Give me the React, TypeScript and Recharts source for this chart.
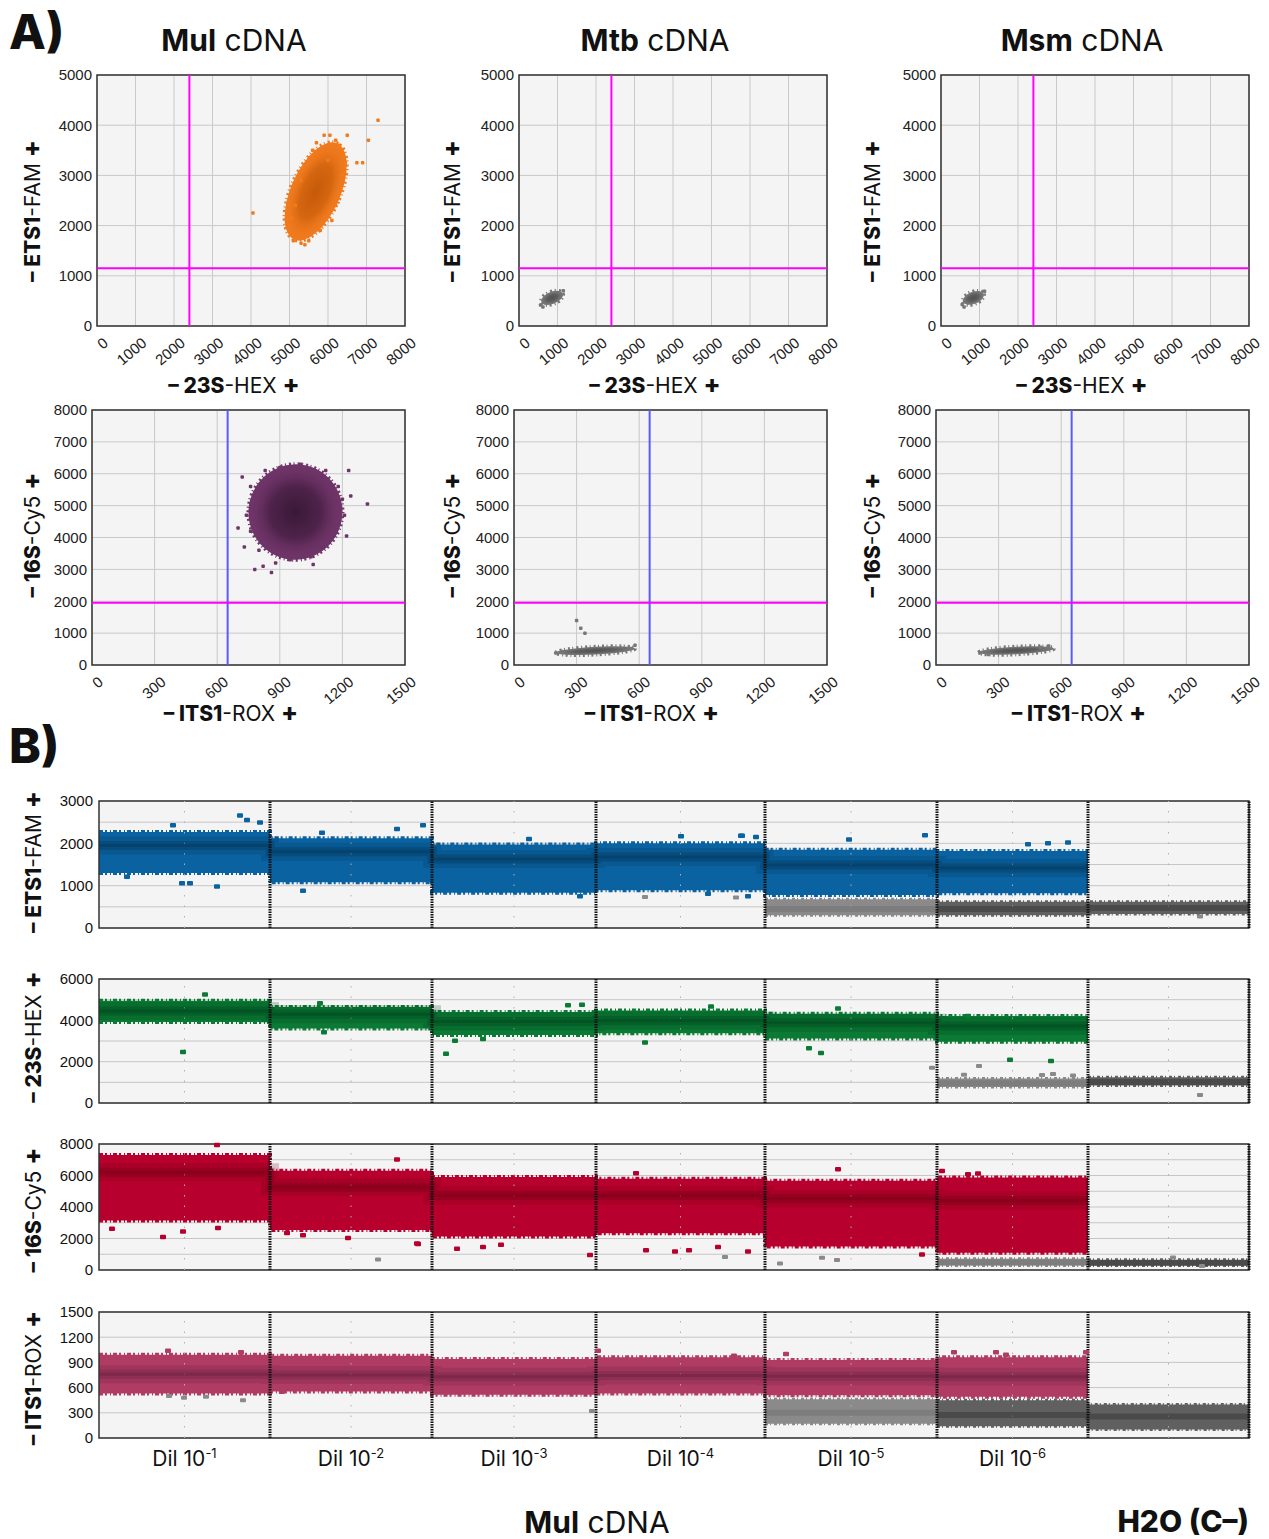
import React from 'react';
import {
  ScatterChart, Scatter, XAxis, YAxis, CartesianGrid, ReferenceLine, ReferenceArea,
  ComposedChart, Area, Line,
} from 'recharts';

const TICK_FONT = '"Liberation Sans", Arial, sans-serif';
const LABEL_FONT = 'Inter, "Noto Sans", sans-serif';

// ---------- A) 2D amplitude plots ----------
const hexTicksA = [0, 1000, 2000, 3000, 4000, 5000, 6000, 7000, 8000];
const famTicksA = [0, 1000, 2000, 3000, 4000, 5000];
const roxTicksA = [0, 300, 600, 900, 1200, 1500];
const cy5TicksA = [0, 1000, 2000, 3000, 4000, 5000, 6000, 7000, 8000];

const famHexThreshold = { x: 2400, y: 1150 };
const cy5RoxThreshold = { x: 650, y: 1950 };

// cluster centre, half spread in axis units, tilt in degrees
const mulFamHexCluster = [{ x: 5680, y: 2680, halfX: 640, halfY: 1050, tilt: 24 }];
const mtbFamHexCluster = [{ x: 860, y: 560, halfX: 300, halfY: 120, tilt: -22 }];
const msmFamHexCluster = [{ x: 840, y: 560, halfX: 290, halfY: 120, tilt: -22 }];
const mulCy5RoxCluster = [{ x: 975, y: 4800, halfX: 225, halfY: 1500, tilt: 15 }];
const mtbCy5RoxCluster = [{ x: 390, y: 450, halfX: 190, halfY: 120, tilt: -3 }];
const msmCy5RoxCluster = [{ x: 385, y: 455, halfX: 180, halfY: 120, tilt: -3 }];

// droplets outside the dense cores
const mulFamHexSpeckles = [
  { x: 4050, y: 2250 }, { x: 5050, y: 2150 }, { x: 5000, y: 2000 }, { x: 5100, y: 1700 },
  { x: 5300, y: 1650 }, { x: 5250, y: 1800 }, { x: 5500, y: 3300 }, { x: 5700, y: 3650 },
  { x: 5900, y: 3800 }, { x: 6050, y: 3800 }, { x: 6200, y: 3700 }, { x: 6300, y: 3600 },
  { x: 6450, y: 3250 }, { x: 6350, y: 3000 }, { x: 6200, y: 2400 }, { x: 6100, y: 2100 },
  { x: 5800, y: 1900 }, { x: 5500, y: 1700 }, { x: 5150, y: 2400 }, { x: 5300, y: 2900 },
  { x: 6500, y: 3800 }, { x: 6750, y: 3250 }, { x: 6900, y: 3250 }, { x: 7050, y: 3700 },
  { x: 7300, y: 4100 }, { x: 5600, y: 3500 }, { x: 6000, y: 3300 }, { x: 5400, y: 1620 },
];
const mtbFamHexSpeckles = [{ x: 560, y: 420 }, { x: 1150, y: 700 }, { x: 620, y: 380 }];
const msmFamHexSpeckles = [{ x: 550, y: 430 }, { x: 1130, y: 690 }, { x: 600, y: 380 }];
const mulCy5RoxSpeckles = [
  { x: 720, y: 5900 }, { x: 1320, y: 5050 }, { x: 1230, y: 6100 }, { x: 1220, y: 4050 },
  { x: 1200, y: 5200 }, { x: 760, y: 5600 }, { x: 740, y: 4700 }, { x: 760, y: 4200 },
  { x: 800, y: 3600 }, { x: 820, y: 3100 }, { x: 860, y: 2900 }, { x: 880, y: 3200 },
  { x: 950, y: 3300 }, { x: 1050, y: 3400 }, { x: 1100, y: 3800 }, { x: 1150, y: 4200 },
  { x: 1180, y: 5600 }, { x: 1120, y: 6100 }, { x: 1000, y: 6300 }, { x: 900, y: 6200 },
  { x: 830, y: 6100 }, { x: 1210, y: 4700 }, { x: 700, y: 4300 }, { x: 780, y: 3000 },
  { x: 730, y: 3700 }, { x: 1060, y: 3150 }, { x: 1170, y: 4500 }, { x: 1240, y: 5300 },
];
const mtbCy5RoxSpeckles = [
  { x: 300, y: 1400 }, { x: 320, y: 1150 }, { x: 340, y: 1000 }, { x: 200, y: 380 },
  { x: 580, y: 620 }, { x: 560, y: 520 }, { x: 230, y: 420 },
];
const msmCy5RoxSpeckles = [{ x: 210, y: 380 }, { x: 540, y: 600 }, { x: 500, y: 560 }, { x: 250, y: 330 }];

// ---------- B) 1D amplitude strips ----------
const wellSizes = [17100, 16200, 16400, 16900, 17200, 15100, 16100];
const dilExponents = ['-1', '-2', '-3', '-4', '-5', '-6', ''];

// per well: [low, high, densest]
const famPos = [[1300, 2270, 1950], [1080, 2120, 1800], [830, 1970, 1630], [890, 2000, 1680], [780, 1850, 1490], [820, 1820, 1420], null];
const famNegLight = [null, null, null, null, [300, 680, 450], null, null];
const famNegDark = [null, null, null, null, null, [300, 620, 450], [330, 620, 470]];

const hexPos = [[3920, 4950, 4450], [3600, 4650, 4290], [3290, 4400, 3940], [3370, 4480, 3990], [3120, 4320, 3880], [2960, 4210, 3720], null];
const hexNegLight = [null, null, null, null, null, [780, 1180, 960], null];
const hexNegDark = [null, null, null, null, null, null, [850, 1250, 1020]];

const cy5Pos = [[3150, 7300, 6200], [2540, 6300, 5250], [2130, 5900, 4730], [2330, 5800, 4730], [1500, 5670, 4520], [1100, 5870, 4420], null];
const cy5NegLight = [null, null, null, null, null, [280, 720, 470], null];
const cy5NegDark = [null, null, null, null, null, null, [280, 650, 450]];

const roxPos = [[530, 990, 760], [555, 980, 750], [515, 940, 730], [530, 960, 745], [510, 930, 735], [490, 960, 730], null];
const roxNegLight = [null, null, null, null, [170, 460, 300], null, null];
const roxNegDark = [null, null, null, null, null, [140, 450, 275], [100, 400, 255]];

const famOutPos = [
  { x: 14100, y: 2660 }, { x: 14800, y: 2550 }, { x: 7400, y: 2430 }, { x: 16100, y: 2490 },
  { x: 11800, y: 980 }, { x: 8300, y: 1060 }, { x: 9100, y: 1060 }, { x: 20400, y: 880 },
  { x: 22300, y: 2250 }, { x: 29800, y: 2340 }, { x: 32400, y: 2430 }, { x: 2800, y: 1210 },
  { x: 43000, y: 2100 }, { x: 58200, y: 2170 }, { x: 64200, y: 2180 }, { x: 64900, y: 750 },
  { x: 60900, y: 810 }, { x: 48100, y: 750 }, { x: 64300, y: 2180 }, { x: 65700, y: 2150 },
  { x: 75000, y: 2090 }, { x: 82600, y: 2190 }, { x: 92900, y: 1980 }, { x: 94900, y: 2000 },
  { x: 96900, y: 2020 },
];
const famOutNeg = [{ x: 54600, y: 730 }, { x: 63700, y: 720 }, { x: 110100, y: 270 }];

const hexOutPos = [
  { x: 22100, y: 4830 }, { x: 22500, y: 3420 }, { x: 35600, y: 3010 }, { x: 34700, y: 2380 },
  { x: 38400, y: 3100 }, { x: 46900, y: 4730 }, { x: 48300, y: 4750 }, { x: 54600, y: 2930 },
  { x: 61200, y: 4670 }, { x: 8400, y: 2470 }, { x: 10600, y: 5250 }, { x: 73900, y: 4570 },
  { x: 72200, y: 2420 }, { x: 71000, y: 2650 }, { x: 86900, y: 4210 }, { x: 91100, y: 2090 },
  { x: 95200, y: 2030 },
];
const hexOutNeg = [
  { x: 88000, y: 1790 }, { x: 83300, y: 1710 }, { x: 86500, y: 1370 }, { x: 94300, y: 1360 },
  { x: 95400, y: 1400 }, { x: 97400, y: 1330 }, { x: 110100, y: 390 },
];

const cy5OutPos = [
  { x: 11800, y: 7940 }, { x: 1300, y: 2620 }, { x: 6400, y: 2090 }, { x: 8400, y: 2450 },
  { x: 11900, y: 2660 }, { x: 18800, y: 2350 }, { x: 20400, y: 2200 }, { x: 24900, y: 2030 },
  { x: 29800, y: 7020 }, { x: 31800, y: 1680 }, { x: 31900, y: 1650 }, { x: 35800, y: 1350 },
  { x: 38400, y: 1460 }, { x: 40200, y: 1600 }, { x: 53700, y: 6150 }, { x: 54700, y: 1250 },
  { x: 57600, y: 1170 }, { x: 59000, y: 1250 }, { x: 61900, y: 1460 }, { x: 64900, y: 1170 },
  { x: 49100, y: 960 }, { x: 73900, y: 6400 }, { x: 84300, y: 6290 }, { x: 87900, y: 6130 },
  { x: 86900, y: 6080 }, { x: 82300, y: 980 },
];
const cy5OutNeg = [
  { x: 27900, y: 670 }, { x: 62600, y: 830 }, { x: 68100, y: 420 }, { x: 72300, y: 770 },
  { x: 73800, y: 630 }, { x: 107400, y: 790 }, { x: 110300, y: 250 },
];

const roxOutPos = [
  { x: 6900, y: 1040 }, { x: 14200, y: 1020 }, { x: 18300, y: 550 }, { x: 49900, y: 1040 },
  { x: 63500, y: 980 }, { x: 68700, y: 1000 }, { x: 85500, y: 1020 }, { x: 89700, y: 1020 },
  { x: 90700, y: 990 }, { x: 98700, y: 1020 },
];
const roxOutNeg = [
  { x: 8500, y: 480 }, { x: 10700, y: 490 }, { x: 7000, y: 500 }, { x: 14400, y: 450 },
  { x: 49300, y: 320 },
];

// ---------- helpers ----------
const wellStarts = wellSizes.map((_, i) => wellSizes.slice(0, i).reduce((a, b) => a + b, 0));
const totalEvents = wellSizes.reduce((a, b) => a + b, 0);
const wellCenters = wellSizes.map((n, i) => wellStarts[i] + n / 2);
const wellEdges = wellSizes.map((n, i) => wellStarts[i] + n);

type Band = (number[] | null)[];
function buildRows(pos: Band, negL: Band, negD: Band) {
  const rows: any[] = [];
  wellSizes.forEach((n, i) => {
    [wellStarts[i], wellStarts[i] + n].forEach((x) => {
      rows.push({
        x,
        pos: pos[i] ? [pos[i]![0], pos[i]![1]] : null,
        posMid: pos[i] ? pos[i]![2] : null,
        negL: negL[i] ? [negL[i]![0], negL[i]![1]] : null,
        negLMid: negL[i] ? negL[i]![2] : null,
        negD: negD[i] ? [negD[i]![0], negD[i]![1]] : null,
        negDMid: negD[i] ? negD[i]![2] : null,
      });
    });
  });
  return rows;
}

const range = (max: number, step: number) => {
  const out: number[] = [];
  for (let v = 0; v <= max; v += step) out.push(v);
  return out;
};

const squareShape = (color: string, w: number, h: number) => (p: any) => (
  <rect x={p.cx - w / 2} y={p.cy - h / 2} width={w} height={h} rx={1} fill={color} />
);

function ClusterShape(props: any) {
  const { cx, cy, payload, kx, ky, edge, core, gid } = props;
  const rx = payload.halfX * kx;
  const ry = payload.halfY * ky;
  return (
    <g transform={`rotate(${payload.tilt} ${cx} ${cy})`}>
      <defs>
        <radialGradient id={gid}>
          <stop offset="0%" stopColor={core} />
          <stop offset="55%" stopColor={core} stopOpacity={0.6} />
          <stop offset="100%" stopColor={edge} stopOpacity={0} />
        </radialGradient>
      </defs>
      <ellipse cx={cx} cy={cy} rx={rx} ry={ry} fill={edge} stroke={edge} strokeWidth={4} strokeDasharray="2 2.5 1 3" />
      <ellipse cx={cx} cy={cy} rx={rx} ry={ry} fill={`url(#${gid})`} />
    </g>
  );
}

const AngledTick = (props: any) => {
  const { x, y, payload } = props;
  return (
    <g transform={`translate(${x + 5},${y + 2}) rotate(-40)`}>
      <text x={0} y={0} dy="0.75em" textAnchor="end" fontSize={15} fill="#222" fontFamily={TICK_FONT}>
        {payload.value}
      </text>
    </g>
  );
};

type Cluster = { x: number; y: number; halfX: number; halfY: number; tilt: number };
type Pt = { x: number; y: number };

type PanelProps = {
  id: string; left: number; top: number; plotW: number; plotH: number;
  xMax: number; yMax: number; xTicks: number[]; yTicks: number[];
  thr: Pt; thrXColor: string; cluster: Cluster[]; speckles: Pt[];
  edge: string; core: string;
};

function ScatterPanel(p: PanelProps) {
  const yAxisW = 50;
  const xAxisH = 45;
  const mTop = 10;
  const mRight = 15;
  const kx = p.plotW / p.xMax;
  const ky = p.plotH / p.yMax;
  return (
    <div style={{ position: 'absolute', left: p.left - yAxisW, top: p.top - mTop }}>
      <ScatterChart
        width={yAxisW + p.plotW + mRight}
        height={mTop + p.plotH + xAxisH}
        margin={{ top: mTop, right: mRight, bottom: 0, left: 0 }}
      >
        <CartesianGrid fill="#f4f4f4" stroke="#c9c9c9" />
        <XAxis type="number" dataKey="x" domain={[0, p.xMax]} ticks={p.xTicks} interval={0}
          height={xAxisH} tickLine={false} axisLine={false} tick={<AngledTick />} />
        <YAxis type="number" dataKey="y" domain={[0, p.yMax]} ticks={p.yTicks} interval={0}
          width={yAxisW} tickLine={false} axisLine={false} tickSize={2} tickMargin={3}
          tick={{ fontSize: 15, fill: '#222', fontFamily: TICK_FONT }} />
        <Scatter data={p.cluster} isAnimationActive={false}
          shape={(s: any) => <ClusterShape {...s} kx={kx} ky={ky} edge={p.edge} core={p.core} gid={`cl-${p.id}`} />} />
        <Scatter data={p.speckles} isAnimationActive={false} shape={squareShape(p.edge, 3.5, 3.5)} />
        <ReferenceLine x={p.thr.x} stroke={p.thrXColor} strokeWidth={2} />
        <ReferenceLine y={p.thr.y} stroke="#ff00ff" strokeWidth={2} />
        <ReferenceArea x1={0} x2={p.xMax} y1={0} y2={p.yMax} fill="none" stroke="#333" strokeWidth={1.5} />
      </ScatterChart>
    </div>
  );
}

const DilTick = (props: any) => {
  const { x, y, index } = props;
  const exp = dilExponents[index];
  if (!exp) return null;
  return (
    <text x={x} y={y} dy={20} textAnchor="middle" fontSize={21} fill="#111" fontFamily={LABEL_FONT}>
      Dil 10<tspan dy={-8} fontSize={13}>{exp}</tspan>
    </text>
  );
};

type StripProps = {
  top: number; plotH: number; yMax: number; yTicks: number[]; gridStep: number;
  rows: any[]; outPos: Pt[]; outNeg: Pt[];
  color: string; core: string; showX?: boolean;
};

const GREY_LIGHT = '#8a8a8a';
const GREY_LIGHT_CORE = '#707070';
const GREY_DARK = '#606060';
const GREY_DARK_CORE = '#3c3c3c';

function StripPanel(s: StripProps) {
  const yAxisW = 55;
  const mTop = 12;
  const mBottom = s.showX ? 0 : 12;
  const xAxisH = s.showX ? 40 : 0;
  const plotW = 1150;
  return (
    <div style={{ position: 'absolute', left: 99 - yAxisW, top: s.top - mTop }}>
      <ComposedChart
        width={yAxisW + plotW + 5}
        height={mTop + s.plotH + xAxisH + mBottom}
        data={s.rows}
        margin={{ top: mTop, right: 5, bottom: mBottom, left: 0 }}
      >
        <CartesianGrid vertical={false} fill="#f4f4f4" stroke="#c6c6c6" horizontalValues={range(s.yMax, s.gridStep)} />
        <XAxis type="number" dataKey="x" domain={[0, totalEvents]} ticks={wellCenters} interval={0}
          hide={!s.showX} height={xAxisH} tickLine={false} axisLine={false} tick={<DilTick />} />
        <YAxis type="number" domain={[0, s.yMax]} ticks={s.yTicks} interval={0} width={yAxisW}
          tickLine={false} axisLine={false} tickSize={2} tickMargin={4}
          tick={{ fontSize: 15, fill: '#111', fontFamily: TICK_FONT }} />
        {wellCenters.map((c) => (
          <ReferenceLine key={`c${c}`} x={c} stroke="#b0b0b0" strokeDasharray="1.5 9" />
        ))}
        <Area dataKey="negL" type="linear" stroke={GREY_LIGHT} strokeWidth={3} strokeDasharray="3 2 1 3"
          fill={GREY_LIGHT} fillOpacity={1} isAnimationActive={false} />
        <Line dataKey="negLMid" type="linear" stroke={GREY_LIGHT_CORE} strokeWidth={6} strokeOpacity={0.5} dot={false} isAnimationActive={false} />
        <Area dataKey="negD" type="linear" stroke={GREY_DARK} strokeWidth={3} strokeDasharray="3 2 1 3"
          fill={GREY_DARK} fillOpacity={1} isAnimationActive={false} />
        <Line dataKey="negDMid" type="linear" stroke={GREY_DARK_CORE} strokeWidth={6} strokeOpacity={0.6} dot={false} isAnimationActive={false} />
        <Area dataKey="pos" type="linear" stroke={s.color} strokeWidth={4} strokeDasharray="4 2 2 3 1 2"
          fill={s.color} fillOpacity={1} isAnimationActive={false} />
        <Line dataKey="posMid" type="linear" stroke={s.core} strokeWidth={18} strokeOpacity={0.22} dot={false} isAnimationActive={false} />
        <Line dataKey="posMid" type="linear" stroke={s.core} strokeWidth={9} strokeOpacity={0.35} dot={false} isAnimationActive={false} />
        <Line dataKey="posMid" type="linear" stroke={s.core} strokeWidth={3} strokeOpacity={0.45} dot={false} isAnimationActive={false} />
        <Scatter data={s.outNeg} dataKey="y" isAnimationActive={false} shape={squareShape(GREY_LIGHT, 6, 4)} />
        <Scatter data={s.outPos} dataKey="y" isAnimationActive={false} shape={squareShape(s.color, 6, 4.5)} />
        {wellEdges.map((e) => (
          <ReferenceLine key={`e${e}`} x={e} stroke="#111" strokeWidth={3} strokeDasharray="1.5 1" />
        ))}
        <ReferenceArea x1={0} x2={totalEvents} y1={0} y2={s.yMax} fill="none" stroke="#333" strokeWidth={1.5} />
      </ComposedChart>
    </div>
  );
}

function AxisName({ cx, cy, strong, rest, vertical }: { cx: number; cy: number; strong: string; rest: string; vertical?: boolean }) {
  return (
    <div style={{
      position: 'absolute', left: cx, top: cy, whiteSpace: 'nowrap',
      transform: `translate(-50%, -50%)${vertical ? ' rotate(-90deg)' : ''}`,
      fontFamily: LABEL_FONT, fontSize: 21, color: '#111', lineHeight: 1,
    }}>
      <span style={{ fontWeight: 800 }}>– {strong}</span>{rest} <span style={{ fontWeight: 800, fontSize: 25 }}>+</span>
    </div>
  );
}

function Title({ cx, cy, strong, rest, size = 30 }: { cx: number; cy: number; strong: string; rest: string; size?: number }) {
  return (
    <div style={{
      position: 'absolute', left: cx, top: cy, transform: 'translate(-50%, -50%)', whiteSpace: 'nowrap',
      fontFamily: LABEL_FONT, fontSize: size, color: '#111', lineHeight: 1,
    }}>
      <span style={{ fontWeight: 700 }}>{strong}</span>{rest}
    </div>
  );
}

const ORANGE = '#f07a1e';
const ORANGE_CORE = '#c55a08';
const PURPLE = '#6f3468';
const PURPLE_CORE = '#3a1838';
const GREY = '#777777';
const GREY_CORE = '#505050';

export default function App() {
  const columns = [
    { id: 'mul', name: 'Mul', top: 97, bottom: 92, title: 234, famHex: mulFamHexCluster, fhSpk: mulFamHexSpeckles, cyRox: mulCy5RoxCluster, crSpk: mulCy5RoxSpeckles, c1: [ORANGE, ORANGE_CORE], c2: [PURPLE, PURPLE_CORE], yl: 31 },
    { id: 'mtb', name: 'Mtb', top: 519, bottom: 514, title: 655, famHex: mtbFamHexCluster, fhSpk: mtbFamHexSpeckles, cyRox: mtbCy5RoxCluster, crSpk: mtbCy5RoxSpeckles, c1: [GREY, GREY_CORE], c2: [GREY, GREY_CORE], yl: 451 },
    { id: 'msm', name: 'Msm', top: 941, bottom: 936, title: 1082, famHex: msmFamHexCluster, fhSpk: msmFamHexSpeckles, cyRox: msmCy5RoxCluster, crSpk: msmCy5RoxSpeckles, c1: [GREY, GREY_CORE], c2: [GREY, GREY_CORE], yl: 871 },
  ];

  return (
    <div style={{ position: 'absolute', left: 0, top: 0, width: 1269, height: 1539, background: '#fff', overflow: 'hidden' }}>
      <div style={{ position: 'absolute', left: 9, top: 2, fontFamily: LABEL_FONT, fontWeight: 800, fontSize: 48, color: '#111' }}>A)</div>
      <div style={{ position: 'absolute', left: 9, top: 716, fontFamily: LABEL_FONT, fontWeight: 800, fontSize: 48, color: '#111' }}>B)</div>

      {columns.map((c) => (
        <React.Fragment key={c.id}>
          <Title cx={c.title} cy={40} strong={c.name} rest=" cDNA" />
          <ScatterPanel id={`${c.id}-fh`} left={c.top} top={75} plotW={308} plotH={251}
            xMax={8000} yMax={5000} xTicks={hexTicksA} yTicks={famTicksA} thr={famHexThreshold} thrXColor="#ff00ff"
            cluster={c.famHex} speckles={c.fhSpk} edge={c.c1[0]} core={c.c1[1]} />
          <ScatterPanel id={`${c.id}-cr`} left={c.bottom} top={410} plotW={313} plotH={255}
            xMax={1500} yMax={8000} xTicks={roxTicksA} yTicks={cy5TicksA} thr={cy5RoxThreshold} thrXColor="#5a5aff"
            cluster={c.cyRox} speckles={c.crSpk} edge={c.c2[0]} core={c.c2[1]} />
          <AxisName cx={c.yl} cy={211} strong="ETS1" rest="-FAM" vertical />
          <AxisName cx={c.yl} cy={535} strong="16S" rest="-Cy5" vertical />
          <AxisName cx={c.title} cy={384} strong="23S" rest="-HEX" />
          <AxisName cx={c.title - 3} cy={712} strong="ITS1" rest="-ROX" />
        </React.Fragment>
      ))}

      <StripPanel top={801} plotH={127} yMax={3000} yTicks={[0, 1000, 2000, 3000]} gridStep={500}
        rows={buildRows(famPos, famNegLight, famNegDark)} outPos={famOutPos} outNeg={famOutNeg}
        color="#0a62a0" core="#04375a" />
      <StripPanel top={979} plotH={124} yMax={6000} yTicks={[0, 2000, 4000, 6000]} gridStep={1000}
        rows={buildRows(hexPos, hexNegLight, hexNegDark)} outPos={hexOutPos} outNeg={hexOutNeg}
        color="#0b7a35" core="#00461c" />
      <StripPanel top={1144} plotH={126} yMax={8000} yTicks={[0, 2000, 4000, 6000, 8000]} gridStep={1000}
        rows={buildRows(cy5Pos, cy5NegLight, cy5NegDark)} outPos={cy5OutPos} outNeg={cy5OutNeg}
        color="#b8002e" core="#780018" />
      <StripPanel top={1312} plotH={126} yMax={1500} yTicks={roxTicksA} gridStep={300}
        rows={buildRows(roxPos, roxNegLight, roxNegDark)} outPos={roxOutPos} outNeg={roxOutNeg}
        color="#b03c64" core="#6a2242" showX />

      <AxisName cx={32} cy={862} strong="ETS1" rest="-FAM" vertical />
      <AxisName cx={32} cy={1037} strong="23S" rest="-HEX" vertical />
      <AxisName cx={32} cy={1210} strong="16S" rest="-Cy5" vertical />
      <AxisName cx={32} cy={1378} strong="ITS1" rest="-ROX" vertical />

      <Title cx={597} cy={1522} strong="Mul" rest=" cDNA" />
      <div style={{ position: 'absolute', right: 20, top: 1506, fontFamily: LABEL_FONT, fontWeight: 800, fontSize: 30, color: '#111', lineHeight: 1 }}>
        H2O (C–)
      </div>
    </div>
  );
}
